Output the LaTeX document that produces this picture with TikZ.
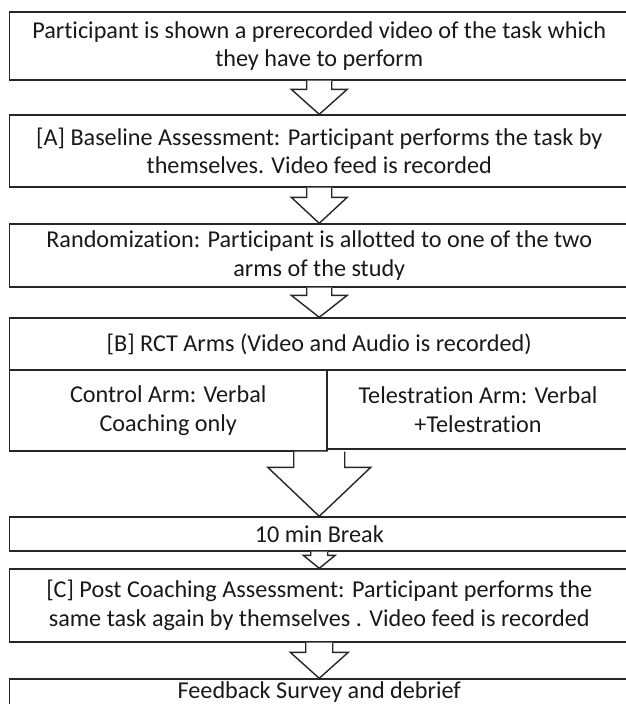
\documentclass[tikz,border=0pt]{standalone}
\usepackage{fontspec}
\setmainfont[Ligatures={NoCommon}]{Carlito}
\usetikzlibrary{calc}
\tikzset{
  flowbox/.style={draw=black!85, line width=1.4pt, rectangle, inner sep=0pt, align=center,
    font=\fontsize{24.2}{28.5}\selectfont, text=black!90},
  arrowline/.style={draw=black!85, line width=1.4pt, line join=miter, fill=white}
}
% #1 from point, #2 to point, #3 shaft half width, #4 head half width, #5 head length
\newcommand{\blockarrow}[5]{%
  \draw[arrowline] ($#1+(-#3,0)$) -- ($#2+(-#3,-#5)$) -- ($#2+(-#4,-#5)$) -- #2
    -- ($#2+(#4,-#5)$) -- ($#2+(#3,-#5)$) -- ($#1+(#3,0)$);}
\begin{document}
\begin{tikzpicture}[x=1pt,y=-1pt]
\useasboundingbox (0,0) rectangle (625,704);
\node[flowbox, minimum width=619.5pt, minimum height=68pt] (b1) at (319.25,46)
  {Participant is shown a prerecorded video of the task which\\they have to perform};
\node[flowbox, minimum width=619.5pt, minimum height=72pt] (b2) at (319.25,151)
  {[A] Baseline Assessment: Participant performs the task by\\themselves. Video feed is recorded};
\node[flowbox, minimum width=619.5pt, minimum height=63pt] (b3) at (319.25,255.5)
  {Randomization: Participant is allotted to one of the two\\arms of the study};
\node[flowbox, minimum width=619.5pt, minimum height=52pt] (bh) at (319.25,344)
  {[B] RCT Arms (Video and Audio is recorded)};
\node[flowbox, minimum width=317.5pt, minimum height=81pt] (ctrl) at (168.25,410.5)
  {Control Arm: Verbal\\Coaching only};
\node[flowbox, minimum width=302pt, minimum height=79pt] (tele) at (478,409.5)
  {Telestration Arm: Verbal\\+Telestration};
\node[flowbox, minimum width=619.5pt, minimum height=34pt] (brk) at (319.25,534)
  {10 min Break};
\node[flowbox, minimum width=619.5pt, minimum height=73pt] (bc) at (319.25,605.5)
  {[C] Post Coaching Assessment: Participant performs the\\same task again by themselves . Video feed is recorded};
\node[flowbox, minimum width=619.5pt, minimum height=32pt, text height=16pt, text depth=10pt] (fb) at (319.25,695)
  {Feedback Survey and debrief};
\coordinate (splitout) at (ctrl.south east -| brk.north);
\blockarrow{(b1.south)}{(b2.north)}{12.5}{28}{25}
\blockarrow{(b2.south)}{(b3.north)}{12.5}{28}{26}
\blockarrow{(b3.south)}{(bh.north)}{12.5}{28}{22}
\blockarrow{(splitout)}{(brk.north)}{25.5}{51.5}{49}
\blockarrow{(brk.south)}{(bc.north)}{8.5}{16}{13}
\blockarrow{(bc.south)}{(fb.north)}{13.5}{29}{26}
\end{tikzpicture}
\end{document}
